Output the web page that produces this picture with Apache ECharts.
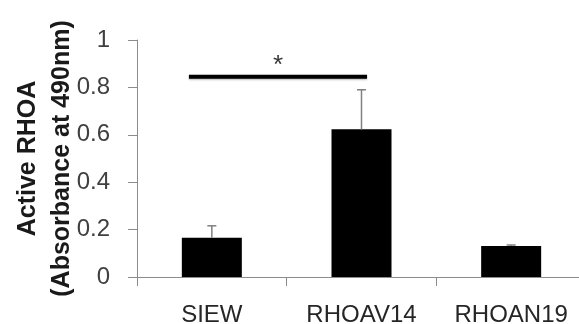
<!DOCTYPE html>
<html>
<head>
<meta charset="utf-8">
<script src="https://cdn.jsdelivr.net/npm/echarts@6/dist/echarts.min.js"></script>
<style>
  html, body { margin: 0; padding: 0; background: #fff; }
  #chart { width: 579px; height: 324px; }
</style>
</head>
<body>
<div id="chart"></div>
<script>
// groups on the x axis
const categories = ['SIEW', 'RHOAV14', 'RHOAN19']
// mean absorbance per group
const values = [0.166, 0.623, 0.131]
// upper error (added on top of the mean)
const errors = [0.05, 0.167, 0.004]
// y axis ticks
const yTicks = [0, 0.2, 0.4, 0.6, 0.8, 1]
// significance bracket: from/to on a 0..3 helper axis, height, and label
const sigFrom = 0.347
const sigTo = 1.537
const sigHeight = 0.845
const sigLabel = '*'

const chart = echarts.init(document.getElementById('chart'))

const errData = values.map((v, i) => [i, v, v + errors[i]])

chart.setOption({
  animation: false,
  grid: { left: 137, right: -7, top: 40, bottom: 47, outerBoundsMode: 'none', containLabel: false },
  xAxis: [{
    type: 'category',
    data: categories,
    axisLine: { lineStyle: { color: '#8c8c8c', width: 1 } },
    axisTick: { show: true, length: 9, lineStyle: { color: '#8c8c8c' } },
    axisLabel: {
      interval: 0,
      hideOverlap: false,
      margin: 26,
      fontSize: 24,
      color: '#262626',
      fontFamily: 'Liberation Sans'
    }
  }, {
    type: 'value',
    min: 0,
    max: 3,
    show: false
  }],
  yAxis: {
    type: 'value',
    min: yTicks[0],
    max: yTicks[yTicks.length - 1],
    interval: 0.2,
    splitLine: { show: false },
    axisLine: { show: true, lineStyle: { color: '#8c8c8c', width: 1 } },
    axisTick: { show: true, length: 9, lineStyle: { color: '#8c8c8c' } },
    axisLabel: {
      margin: 27,
      fontSize: 24,
      color: '#404040',
      fontFamily: 'Liberation Sans',
      formatter: v => String(Math.round(v * 10) / 10)
    },
    name: 'Active RHOA\n(Absorbance at 490nm)',
    nameLocation: 'middle',
    nameRotate: 90,
    nameGap: 58,
    nameMoveOverlap: false,
    nameTextStyle: {
      fontSize: 25,
      fontWeight: 'bold',
      color: '#1a1a1a',
      fontFamily: 'Liberation Sans',
      lineHeight: 34
    }
  },
  series: [{
    type: 'bar',
    data: values,
    barWidth: 60,
    itemStyle: { color: '#000' }
  }, {
    type: 'custom',
    data: errData,
    z: 5,
    renderItem(params, api) {
      const lo = api.coord([api.value(0), api.value(1)])
      const hi = api.coord([api.value(0), api.value(2)])
      const cap = 4.5
      const style = { stroke: '#808080', lineWidth: 1.5 }
      return {
        type: 'group',
        children: [
          { type: 'line', shape: { x1: lo[0], y1: lo[1], x2: hi[0], y2: hi[1] }, style },
          { type: 'line', shape: { x1: hi[0] - cap, y1: hi[1], x2: hi[0] + cap, y2: hi[1] }, style }
        ]
      }
    }
  }, {
    type: 'line',
    xAxisIndex: 1,
    data: [[sigFrom, sigHeight], [sigTo, sigHeight]],
    symbol: 'none',
    lineStyle: { color: '#000', width: 4, shadowColor: 'rgba(0,0,0,0.3)', shadowBlur: 2, shadowOffsetY: 1 }
  }, {
    type: 'scatter',
    xAxisIndex: 1,
    data: [[(sigFrom + sigTo) / 2, sigHeight]],
    symbolSize: 0,
    label: {
      show: true,
      position: 'top',
      distance: -2,
      formatter: sigLabel,
      fontSize: 26,
      color: '#000',
      fontFamily: 'Liberation Sans'
    }
  }]
})
</script>
</body>
</html>
